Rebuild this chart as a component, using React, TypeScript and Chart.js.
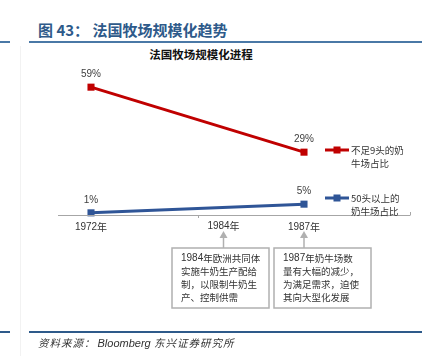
import React, { useEffect, useRef } from "react";
import { Chart, registerables } from "chart.js";

Chart.register(...registerables);

const categories = ["1972年", "1984年", "1987年"];
const smallFarmShare = [59, null, 29];
const largeFarmShare = [1, null, 5];
const seriesNames = [["不足9头的奶", "牛场占比"], ["50头以上的", "奶牛场占比"]];
const note1984 = ["1984年欧洲共同体", "实施牛奶生产配给", "制，以限制牛奶生", "产、控制供需"];
const note1987 = ["1987年奶牛场数", "量有大幅的减少，", "为满足需求，迫使", "其向大型化发展"];

const RED = "#c00000";
const BLUE = "#2f5597";
const CJK = '"Noto Sans CJK SC", "Liberation Sans", sans-serif';
const LAT = '"Liberation Sans", Arial, sans-serif';

const overlay = {
  id: "overlay",
  afterDatasetsDraw(chart: any) {
    const ctx = chart.ctx;
    const xs = chart.scales.x;
    const ys = chart.scales.y;
    const y0 = ys.getPixelForValue(0);
    ctx.save();

    // axis line
    ctx.strokeStyle = "#a6a6a6";
    ctx.lineWidth = 1;
    ctx.beginPath();
    ctx.moveTo(58, y0 + 0.5);
    ctx.lineTo(410, y0 + 0.5);
    ctx.moveTo(410.5, y0 + 0.5);
    ctx.lineTo(410.5, y0 - 3);
    const xm = xs.getPixelForValue(1);
    ctx.moveTo(Math.round(xm) + 0.5, y0);
    ctx.lineTo(Math.round(xm) + 0.5, y0 + 3);
    ctx.stroke();

    // x labels
    ctx.fillStyle = "#333";
    ctx.font = `10px ${LAT}`;
    ctx.textAlign = "center";
    ctx.textBaseline = "middle";
    const labX = [xs.getPixelForValue(0), xs.getPixelForValue(1) + 26, xs.getPixelForValue(2)];
    const labY = [y0 + 12, y0 + 11, y0 + 12];
    categories.forEach((c, i) => {
      ctx.font = `10px ${LAT}`;
      const num = c.replace("年", "");
      const w1 = ctx.measureText(num).width;
      ctx.font = `10px ${CJK}`;
      const w2 = ctx.measureText("年").width;
      const start = labX[i] - (w1 + w2) / 2;
      ctx.textAlign = "left";
      ctx.font = `10px ${LAT}`;
      ctx.fillText(num, start, labY[i]);
      ctx.font = `10px ${CJK}`;
      ctx.fillText("年", start + w1, labY[i]);
    });

    // data labels
    ctx.font = `10px ${LAT}`;
    ctx.fillStyle = "#404040";
    ctx.textAlign = "center";
    chart.data.datasets.forEach((ds: any, di: number) => {
      const meta = chart.getDatasetMeta(di);
      meta.data.forEach((pt: any, i: number) => {
        const v = ds.data[i];
        if (v == null) return;
        ctx.fillText(v + "%", pt.x, pt.y - 13);
      });
    });

    // legend
    const legY = [150, 198];
    const cols = [RED, BLUE];
    legY.forEach((ly, i) => {
      ctx.strokeStyle = cols[i];
      ctx.fillStyle = cols[i];
      ctx.lineWidth = 3;
      ctx.beginPath();
      ctx.moveTo(325, ly);
      ctx.lineTo(349, ly);
      ctx.stroke();
      ctx.fillRect(333.5, ly - 3.5, 7, 7);
      ctx.fillStyle = "#333";
      ctx.font = `9.5px ${CJK}`;
      ctx.textAlign = "left";
      ctx.textBaseline = "middle";
      ctx.fillText(seriesNames[i][0], 351, ly);
      ctx.fillText(seriesNames[i][1], 351, ly + 13);
    });

    // annotations
    const drawNote = (ax: number, bx: number, lines: string[]) => {
      ctx.strokeStyle = "#b0b0b0";
      ctx.fillStyle = "#b0b0b0";
      ctx.lineWidth = 1.5;
      ctx.beginPath();
      ctx.moveTo(ax, 248);
      ctx.lineTo(ax, 237);
      ctx.stroke();
      ctx.beginPath();
      ctx.moveTo(ax, 231);
      ctx.lineTo(ax - 4, 238);
      ctx.lineTo(ax + 4, 238);
      ctx.closePath();
      ctx.fill();
      ctx.fillStyle = "#fff";
      ctx.fillRect(bx, 248, 97, 60);
      ctx.strokeRect(bx, 248, 97, 60);
      ctx.fillStyle = "#333";
      ctx.textAlign = "left";
      ctx.textBaseline = "middle";
      lines.forEach((t, i) => {
        const y = 258 + i * 13;
        const m = t.match(/^(\d+)(.*)$/);
        if (m) {
          ctx.font = `10px ${LAT}`;
          ctx.fillText(m[1], bx + 9, y);
          const w = ctx.measureText(m[1]).width;
          ctx.font = `9.5px ${CJK}`;
          ctx.fillText(m[2], bx + 9 + w, y);
        } else {
          ctx.font = `9.5px ${CJK}`;
          ctx.fillText(t, bx + 9, y);
        }
      });
    };
    drawNote(labX[1], 172, note1984);
    drawNote(xs.getPixelForValue(2), 274, note1987);

    ctx.restore();
  },
};

function ChartCanvas() {
  const ref = useRef<HTMLCanvasElement>(null);
  useEffect(() => {
    if (!ref.current) return;
    const chart = new Chart(ref.current, {
      type: "line",
      data: {
        labels: categories,
        datasets: [
          {
            label: seriesNames[0].join(""),
            data: smallFarmShare,
            borderColor: RED,
            backgroundColor: RED,
            borderWidth: 3,
            pointStyle: "rect",
            pointRadius: 5,
            pointBorderWidth: 0,
            spanGaps: true,
            clip: false as any,
          },
          {
            label: seriesNames[1].join(""),
            data: largeFarmShare,
            borderColor: BLUE,
            backgroundColor: BLUE,
            borderWidth: 3,
            pointStyle: "rect",
            pointRadius: 5,
            pointBorderWidth: 0,
            spanGaps: true,
            clip: false as any,
          },
        ],
      },
      options: {
        animation: false,
        responsive: false,
        maintainAspectRatio: false,
        layout: { padding: { left: 91, right: 123, top: 85, bottom: 147 } },
        plugins: { legend: { display: false }, tooltip: { enabled: false } },
        scales: {
          x: { type: "category", display: false, offset: false },
          y: { type: "linear", display: false, min: 0, max: 60 },
        },
      },
      plugins: [overlay],
    });
    return () => chart.destroy();
  }, []);
  return <canvas ref={ref} width={427} height={362} style={{ position: "absolute", left: 0, top: 0 }} />;
}

export default function App() {
  return (
    <div style={{ position: "fixed", left: 0, top: 0, width: 427, height: 362, background: "#fff", overflow: "hidden" }}>
      <div style={{ position: "absolute", left: 20, top: 46, width: 1, height: 310, background: "#f2f2f2" }} />
      <div style={{ position: "absolute", left: 0, top: 41, width: 10, height: 2, background: "#4a78a6" }} />
      <div style={{ position: "absolute", left: 29, top: 41, width: 393, height: 2, background: "#4a78a6" }} />
      <div
        style={{
          position: "absolute",
          left: 38,
          top: 20,
          fontFamily: '"Noto Sans CJK SC", sans-serif',
          fontWeight: 700,
          fontSize: 15,
          lineHeight: "20px",
          color: "#2e5a8a",
          whiteSpace: "nowrap",
        }}
      >
        图 43：&nbsp;法国牧场规模化趋势
      </div>
      <div
        style={{
          position: "absolute",
          left: 0,
          width: 402,
          top: 46,
          textAlign: "center",
          fontFamily: '"Noto Sans CJK SC", sans-serif',
          fontWeight: 700,
          fontSize: 11.5,
          lineHeight: "16px",
          color: "#111",
        }}
      >
        法国牧场规模化进程
      </div>
      <ChartCanvas />
      <div style={{ position: "absolute", left: 0, top: 331, width: 10, height: 2, background: "#2e5a8a" }} />
      <div style={{ position: "absolute", left: 29, top: 331, width: 393, height: 2, background: "#2e5a8a" }} />
      <div
        style={{
          position: "absolute",
          left: 38,
          top: 336,
          fontSize: 10.5,
          lineHeight: "14px",
          fontStyle: "italic",
          color: "#333",
          whiteSpace: "nowrap",
          letterSpacing: "1px",
          fontFamily: '"Noto Sans CJK SC", sans-serif',
        }}
      >
        资料来源：
        <span style={{ fontFamily: '"Liberation Sans", Arial, sans-serif', fontSize: 11, letterSpacing: 0, marginLeft: 2 }}>
          Bloomberg
        </span>{" "}
        东兴证券研究所
      </div>
    </div>
  );
}
